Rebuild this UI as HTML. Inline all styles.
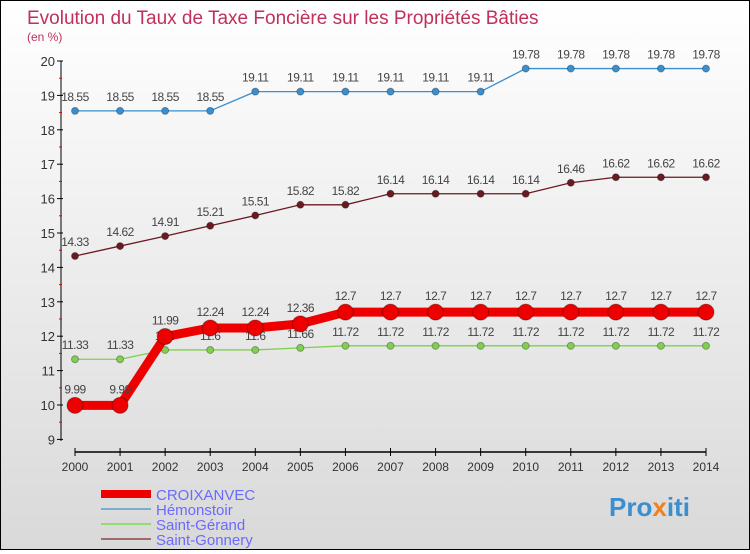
<!DOCTYPE html>
<html><head><meta charset="utf-8"><style>
body{margin:0}
#c{width:748px;height:548px;border:1px solid #000;background:linear-gradient(#ffffff,#d9d9d9);position:relative;font-family:"Liberation Sans",sans-serif}
</style></head><body>
<div id="c">
<svg width="748" height="548" id="s">
<text x="26" y="23" font-size="19" fill="#c0305a">Evolution du Taux de Taxe Foncière sur les Propriétés Bâties</text>
<text x="26" y="40" font-size="12" fill="#c0305a">(en %)</text>
<g id="g"></g>
<text x="608" y="515" font-size="26" font-weight="bold" fill="#3a8fd0">Pro<tspan fill="#f08020">x</tspan>iti</text>
</svg>
</div>
<script>
const years=[2000,2001,2002,2003,2004,2005,2006,2007,2008,2009,2010,2011,2012,2013,2014];
const yTicks=[9,10,11,12,13,14,15,16,17,18,19,20];
const croixanvec=[9.99,9.99,11.99,12.24,12.24,12.36,12.7,12.7,12.7,12.7,12.7,12.7,12.7,12.7,12.7];
const hemonstoir=[18.55,18.55,18.55,18.55,19.11,19.11,19.11,19.11,19.11,19.11,19.78,19.78,19.78,19.78,19.78];
const saintGerand=[11.33,11.33,11.6,11.6,11.6,11.66,11.72,11.72,11.72,11.72,11.72,11.72,11.72,11.72,11.72];
const saintGonnery=[14.33,14.62,14.91,15.21,15.51,15.82,15.82,16.14,16.14,16.14,16.14,16.46,16.62,16.62,16.62];
const NS="http://www.w3.org/2000/svg",g=document.getElementById('g');
const X=i=>74+i*(705-74)/(years.length-1);
const Y=v=>60+(20-v)*34.4;
function el(t,a,p){const e=document.createElementNS(NS,t);for(const k in a)e.setAttribute(k,a[k]);(p||g).appendChild(e);return e;}
let e=el('line',{x1:60,y1:60,x2:60,y2:440,stroke:'#000'});


e=el('line',{x1:74,y1:451,x2:705,y2:451,stroke:'#000',"stroke-width":1.5});


yTicks.forEach(v=>{el('line',{x1:56,x2:62,y1:Y(v),y2:Y(v),stroke:'#000'});
if(v<20)el('line',{x1:58,x2:61,y1:Y(v+0.5),y2:Y(v+0.5),stroke:'#e00'});
const t=el('text',{x:54,y:Y(v)+5,"text-anchor":"end","font-size":13,fill:'#333'});t.textContent=v;

});
years.forEach((y,i)=>{el('line',{x1:X(i),x2:X(i),y1:447,y2:455,stroke:'#000'});
const t=el('text',{x:X(i),y:470,"text-anchor":"middle","font-size":12,fill:'#333'});t.textContent=y;

});
function series(d,col,w,r,name,dy){
const pl=el('polyline',{points:d.map((v,i)=>X(i)+','+Y(v)).join(' '),fill:'none',stroke:col,"stroke-width":w});


d.forEach((v,i)=>{const c=el('circle',{cx:X(i),cy:Y(v),r:r,fill:col,stroke:'rgba(0,0,0,0.3)'});


const t=el('text',{x:X(i),y:Y(v)-dy,"text-anchor":"middle","font-size":12,fill:'#444',"letter-spacing":"-0.5"});t.textContent=v;

});}
series(saintGonnery,'#6b1a22',1.3,3.5,'saint-gonnery',10);
series(saintGerand,'#80d050',1.3,3.5,'saint-gerand',10);
series(hemonstoir,'#3a8fd0',1.3,3.5,'hemonstoir',10);
series(croixanvec,'#ee0000',9,8,'croixanvec',12);
const leg=[['CROIXANVEC','#ee0000',8],['Hémonstoir','#7aaed0',2],['Saint-Gérand','#90dd70',2],['Saint-Gonnery','#a06a6a',2]];
leg.forEach((l,i)=>{const yy=493+i*15;
const ln=el('line',{x1:100,x2:150,y1:yy,y2:yy,stroke:l[1],"stroke-width":l[2]});


const t=el('text',{x:155,y:yy+6,"font-size":15,fill:'#6a6aff'});t.textContent=l[0];

});
</script>
</body></html>
